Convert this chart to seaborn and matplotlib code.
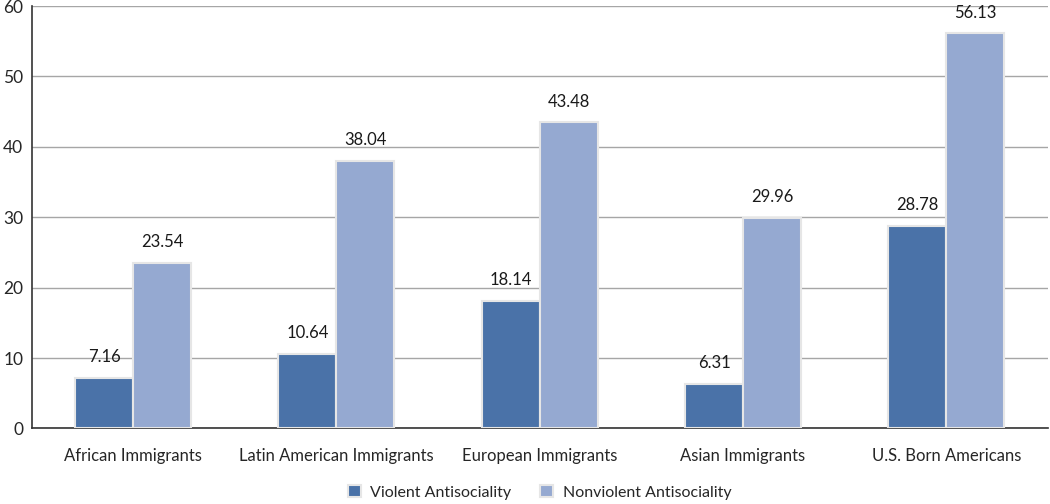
import matplotlib
matplotlib.use("Agg")
import matplotlib.pyplot as plt
import seaborn as sns
import pandas as pd
import numpy as np

categories = ["African Immigrants", "Latin American Immigrants", "European Immigrants",
              "Asian Immigrants", "U.S. Born Americans"]
violent = [7.16, 10.64, 18.14, 6.31, 28.78]
nonviolent = [23.54, 38.04, 43.48, 29.96, 56.13]
series = ["Violent Antisociality", "Nonviolent Antisociality"]
colors = ["#4A72A8", "#95A9D1"]

df = pd.DataFrame({
    "group": categories * 2,
    "value": violent + nonviolent,
    "series": [series[0]] * len(categories) + [series[1]] * len(categories),
})

sns.set_style("white")
plt.rcParams["font.family"] = ["Lato", "DejaVu Sans"]

fig, ax = plt.subplots(figsize=(10.5, 5.04), dpi=100)
fig.subplots_adjust(left=0.03, right=0.998, top=0.988, bottom=0.15)

sns.barplot(data=df, x="group", y="value", hue="series", palette=colors,
            saturation=1, width=0.57, edgecolor="#E6E6E6", linewidth=1.5,
            ax=ax, zorder=3)

for c in ax.containers:
    ax.bar_label(c, fmt="%.2f", padding=9, fontsize=12, color="#1a1a1a")

ax.set_ylim(0, 60)
ax.set_yticks(np.arange(0, 61, 10))
ax.set_xlim(-0.5, len(categories) - 0.5)
ax.yaxis.grid(True, color="#A6A6A6", linewidth=1, zorder=0)
ax.set_axisbelow(True)
ax.set_xlabel("")
ax.set_ylabel("")

ax.tick_params(axis="y", length=4, width=1, color="#333333", labelsize=12.5, pad=2)
ax.tick_params(axis="x", which="major", length=0, labelsize=12, pad=14)
ax.set_xticks(np.arange(-0.5, len(categories), 1.0), minor=True)
ax.tick_params(axis="x", which="minor", length=5, width=1, color="#333333")

for s in ["top", "right"]:
    ax.spines[s].set_visible(False)
for s in ["left", "bottom"]:
    ax.spines[s].set_color("#333333")
    ax.spines[s].set_linewidth(1.2)

handles, labels = ax.get_legend_handles_labels()
ax.legend(handles, labels, loc="upper center", bbox_to_anchor=(0.5, -0.1),
          ncol=2, frameon=False, fontsize=11.5, handlelength=0.8, handleheight=0.8,
          columnspacing=1.8, handletextpad=0.6)

plt.savefig("out.png", dpi=100)
